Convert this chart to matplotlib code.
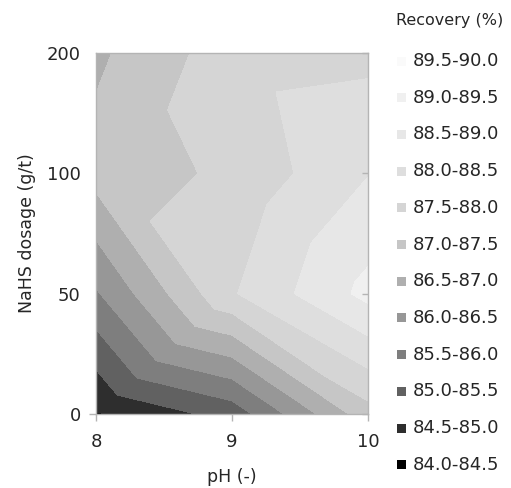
import matplotlib

matplotlib.use("Agg")
import matplotlib.pyplot as plt
import matplotlib.tri as mtri
from matplotlib.lines import TICKLEFT
from matplotlib.patches import Rectangle
import numpy as np

# grid: columns = pH, rows = NaHS dosage
ph = [8, 9, 10]
dosage = [0, 50, 100, 200]
recovery = [
    [84.45, 85.20, 87.30],   # 0 g/t
    [85.94, 87.95, 89.15],   # 50 g/t
    [87.20, 87.60, 88.48],   # 100 g/t
    [86.90, 87.77, 87.87],   # 200 g/t
]

band_edges = [84.0, 84.5, 85.0, 85.5, 86.0, 86.5, 87.0, 87.5, 88.0, 88.5, 89.0, 89.5, 90.0]
band_labels = ["84.0-84.5", "84.5-85.0", "85.0-85.5", "85.5-86.0", "86.0-86.5", "86.5-87.0",
               "87.0-87.5", "87.5-88.0", "88.0-88.5", "88.5-89.0", "89.0-89.5", "89.5-90.0"]
band_colors = ["#000000", "#2e2e2e", "#616161", "#7e7e7e", "#979797", "#afafaf",
               "#c6c6c6", "#d5d5d5", "#dedede", "#e7e7e7", "#f0f0f0", "#fafafa"]

TEXT = "#262626"
AXIS = "#b4b4b4"

z = np.array(recovery)
nx, ny = len(ph), len(dosage)
# dosage axis is categorical (equal spacing per level)
xx, yy = np.meshgrid(np.array(ph, dtype=float), np.arange(ny, dtype=float))

# split each cell into two triangles along the diagonal with the larger sum
triangles = []
for j in range(ny - 1):
    for i in range(nx - 1):
        ll, lr = j * nx + i, j * nx + i + 1
        ul, ur = (j + 1) * nx + i, (j + 1) * nx + i + 1
        if z[j, i] + z[j + 1, i + 1] >= z[j + 1, i] + z[j, i + 1]:
            triangles += [[ll, lr, ur], [ll, ur, ul]]
        else:
            triangles += [[ll, lr, ul], [lr, ur, ul]]
tri = mtri.Triangulation(xx.ravel(), yy.ravel(), triangles)

W, H = 511, 488
fig = plt.figure(figsize=(W / 100, H / 100), dpi=100)
ax = fig.add_axes([96 / W, (H - 414) / H, 272 / W, 361 / H])

ax.tricontourf(tri, z.ravel(), levels=band_edges, colors=band_colors, antialiased=False)

ax.set_xlim(ph[0], ph[-1])
ax.set_ylim(0, ny - 1)
ax.set_xticks(ph)
ax.set_xticklabels([str(p) for p in ph])
ax.set_yticks(range(ny))
ax.set_yticklabels([str(d) for d in dosage])

for side in ("top", "right", "left", "bottom"):
    ax.spines[side].set_color(AXIS)
    ax.spines[side].set_linewidth(1.0)

ax.tick_params(axis="x", direction="out", length=5, width=1, color=AXIS,
               labelsize=13, labelcolor=TEXT, pad=9)
ax.tick_params(axis="y", direction="out", length=5, width=1, color=AXIS,
               labelsize=13, labelcolor=TEXT, pad=6, right=True)
# only the 0 tick shows on the left side; small inward marks on the right
for k, t in enumerate(ax.yaxis.get_major_ticks()):
    if k > 0:
        t.tick1line.set_visible(False)
    t.tick2line.set_marker(TICKLEFT)
    t.tick2line.set_markersize(4)
    t.tick2line.set_color("#999999")

ax.set_xlabel("pH (-)", fontsize=12.5, color=TEXT, labelpad=12)
ax.set_ylabel("NaHS dosage (g/t)", fontsize=12.5, color=TEXT, labelpad=8)

# legend, highest band at the top
fig.text(450 / W, 1 - 20 / H, "Recovery (%)", fontsize=11.5, color=TEXT,
         ha="center", va="center")
y0, step = 61, 36.7
for k, (lab, col) in enumerate(zip(band_labels[::-1], band_colors[::-1])):
    yc = y0 + k * step
    fig.add_artist(Rectangle((397 / W, 1 - (yc + 4.5) / H), 9 / W, 9 / H,
                             transform=fig.transFigure, facecolor=col,
                             edgecolor="none"))
    fig.text(413 / W, 1 - yc / H, lab, fontsize=13, color=TEXT,
             ha="left", va="center")

fig.savefig("out.png", dpi=100)
plt.close(fig)
